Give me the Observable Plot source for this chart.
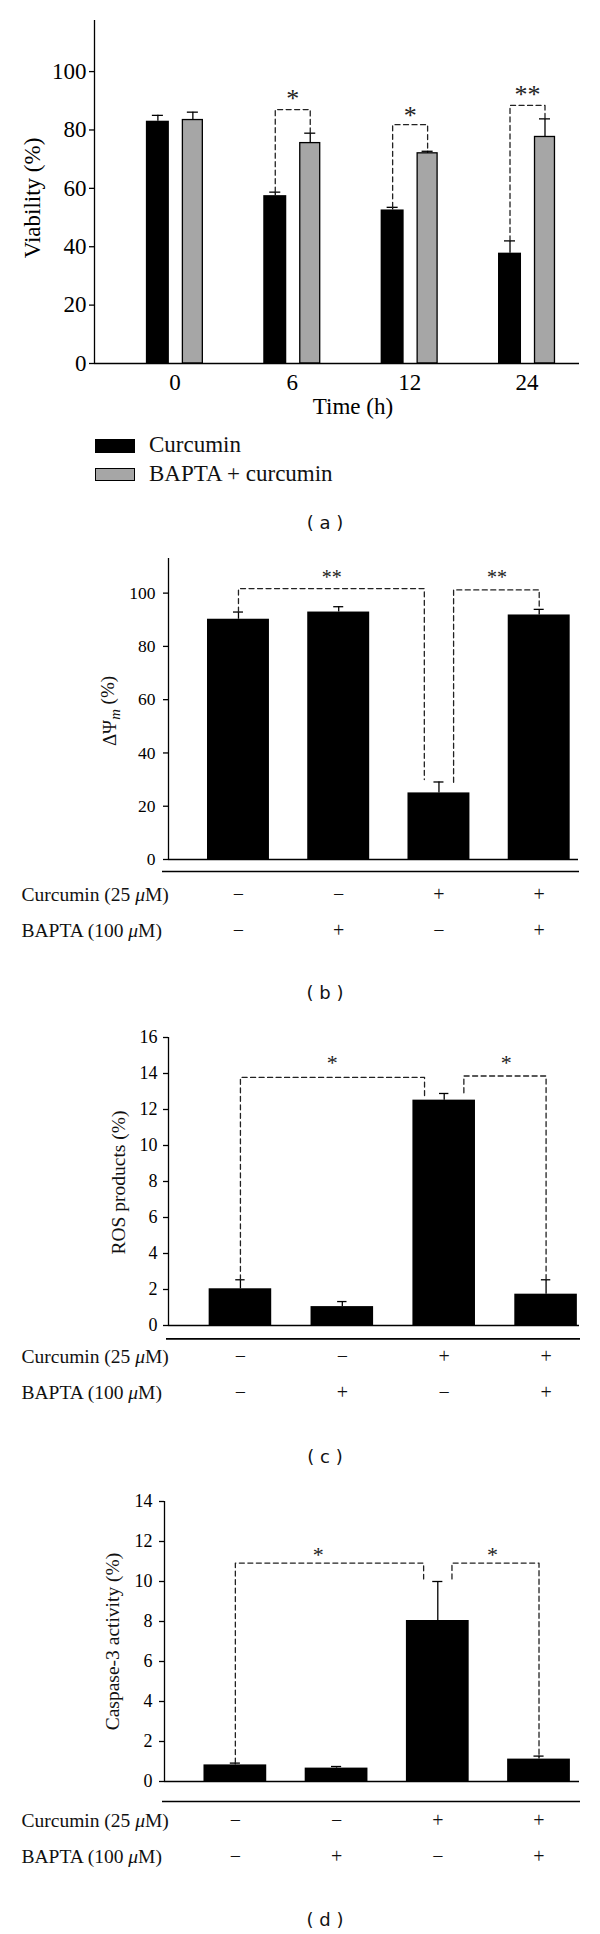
<!DOCTYPE html>
<html>
<head>
<meta charset="utf-8">
<script src="https://cdn.jsdelivr.net/npm/d3@7"></script>
<script src="https://cdn.jsdelivr.net/npm/@observablehq/plot@0.6"></script>
<style>
  body { margin: 0; background: #fff; }
  #wrap { position: relative; width: 600px; height: 1934px; overflow: hidden; background: #fff; }
  .panel { position: absolute; left: 0; overflow: visible; }
  .panel text { font-family: "Liberation Serif", "Times New Roman", serif !important; }
  .cap { position: absolute; left: 250px; width: 150px; text-align: center; font-family: "DejaVu Sans", sans-serif; font-size: 18px; line-height: 22px; color: #111; white-space: pre; }
  .leg { position: absolute; font-family: "Liberation Serif", "Times New Roman", serif; font-size: 23px; line-height: 26px; color: #111; }
  .sw { position: absolute; box-sizing: border-box; }
</style>
</head>
<body>
<div id="wrap"></div>
<script>
// ---------- data ----------
// (a) viability
const times = ["0", "6", "12", "24"];
const viabCurcumin = [83, 57.5, 52.6, 37.8];
const viabCurcuminErr = [2, 1.2, 0.9, 4.2];
const viabBapta = [83.4, 75.5, 72, 77.6];
const viabBaptaErr = [2.7, 3.4, 0.7, 6.2];
const viabSigGroup = [1, 2, 3];
const viabSigLevel = [87, 81.8, 88.4];
const viabSigStarY = [92.5, 86.6, 93.8];
const viabSigLabel = ["*", "*", "**"];
const legendLabels = ["Curcumin", "BAPTA + curcumin"];

// treatment rows (b)-(d)
const rowLabels = ["Curcumin (25 μM)", "BAPTA (100 μM)"];
const curcuminRow = ["−", "−", "+", "+"];
const baptaRow = ["−", "+", "−", "+"];

// (b) mitochondrial membrane potential
const mmp = [90.2, 92.9, 25.0, 91.8];
const mmpErr = [2.7, 2.0, 4.1, 2.1];
const mmpSigFrom = [0, 2], mmpSigTo = [2, 3];
const mmpSigLevel = [101.7, 101.2];
const mmpSigEnd1 = [92.9, 29.0], mmpSigEnd2 = [30.0, 93.9];
const mmpSigLabelX = [0.93, 2.58], mmpSigStarY = [107.3, 107.3];
const mmpSigLabel = ["**", "**"];

// (c) ROS products
const ros = [2.04, 1.05, 12.52, 1.74];
const rosErr = [0.5, 0.28, 0.37, 0.8];
const rosSigFrom = [0, 2], rosSigTo = [2, 3];
const rosSigLevel = [13.78, 13.86];
const rosSigEnd1 = [2.54, 12.93], rosSigEnd2 = [12.76, 2.54];
const rosSigLabelX = [0.90, 2.61], rosSigStarY = [14.8, 14.8];
const rosSigLabel = ["*", "*"];

// (d) caspase-3 activity
const casp = [0.83, 0.67, 8.05, 1.12];
const caspErr = [0.09, 0.08, 1.95, 0.15];
const caspSigFrom = [0, 2], caspSigTo = [2, 3];
const caspSigLevel = [10.92, 10.92];
const caspSigEnd1 = [0.92, 10.13], caspSigEnd2 = [10.13, 1.27];
const caspSigLabelX = [0.82, 2.54], caspSigStarY = [11.55, 11.55];
const caspSigLabel = ["*", "*"];

// ---------- rendering ----------
const serif = "Liberation Serif, Times New Roman, serif";
const wrap = document.getElementById("wrap");
const LW = 1.3;
const dash = "5,3.5";

function place(el, top) {
  el.classList.add("panel");
  el.style.top = top + "px";
  wrap.appendChild(el);
  return el;
}

function fixText(svg) {
  svg.querySelectorAll("text").forEach(t => {
    const s = t.textContent;
    if (t.children.length === 0 && s.includes("μ")) {
      t.innerHTML = s.replace("μ", '<tspan font-style="italic">μ</tspan>');
    }
    if (t.children.length === 0 && s.startsWith("ΔΨm")) {
      t.innerHTML = 'ΔΨ<tspan font-style="italic" font-size="0.78em" dy="0.3em">m</tspan><tspan dy="-0.3em">' + s.slice(3) + '</tspan>';
    }
  });
}

// ----- panel (a)
{
  const xdom = [-0.685, 3.447];
  const A = {blackL: -0.243, blackR: -0.047, grayL: 0.068, grayR: 0.238, cap: 0.047};
  const bc = i => i + (A.blackL + A.blackR) / 2;
  const gc = i => i + (A.grayL + A.grayR) / 2;
  const rows = times.map((t, i) => ({i, t, cur: viabCurcumin[i], curErr: viabCurcuminErr[i], bap: viabBapta[i], bapErr: viabBaptaErr[i]}));
  const br = viabSigGroup.flatMap((g, k) => {
    const r = rows[g];
    return [
      {k, x: bc(g), y: r.cur + r.curErr}, {k, x: bc(g), y: viabSigLevel[k]},
      {k, x: gc(g), y: viabSigLevel[k]}, {k, x: gc(g), y: r.bap + r.bapErr}
    ];
  });
  const stars = viabSigGroup.map((g, k) => ({x: (bc(g) + gc(g)) / 2, y: viabSigStarY[k], s: viabSigLabel[k]}));
  const p = Plot.plot({
    width: 600, height: 430,
    marginTop: 20, marginBottom: 67, marginLeft: 94, marginRight: 21,
    style: {fontFamily: serif, fontSize: "23px", color: "#000", background: "transparent"},
    x: {type: "linear", domain: xdom},
    y: {domain: [0, 117.5]},
    marks: [
      Plot.rect(rows, {x1: d => d.i + A.blackL, x2: d => d.i + A.blackR, y1: 0, y2: "cur", fill: "#000"}),
      Plot.rect(rows, {x1: d => d.i + A.grayL, x2: d => d.i + A.grayR, y1: 0, y2: "bap", fill: "#a6a6a6", stroke: "#000", strokeWidth: LW}),
      Plot.ruleX(rows, {x: d => bc(d.i), y1: "cur", y2: d => d.cur + d.curErr, strokeWidth: LW}),
      Plot.ruleY(rows, {y: d => d.cur + d.curErr, x1: d => bc(d.i) - A.cap, x2: d => bc(d.i) + A.cap, strokeWidth: LW}),
      Plot.ruleX(rows, {x: d => gc(d.i), y1: "bap", y2: d => d.bap + d.bapErr, strokeWidth: LW}),
      Plot.ruleY(rows, {y: d => d.bap + d.bapErr, x1: d => gc(d.i) - A.cap, x2: d => gc(d.i) + A.cap, strokeWidth: LW}),
      Plot.line(br, {x: "x", y: "y", z: "k", stroke: "#222", strokeWidth: LW, strokeDasharray: dash}),
      Plot.text(stars, {x: "x", y: "y", text: "s", fontSize: 26, dy: 5, fill: "#222"}),
      Plot.ruleX([xdom[0]], {strokeWidth: LW}),
      Plot.ruleY([0], {strokeWidth: LW}),
      Plot.axisY({ticks: [0, 20, 40, 60, 80, 100], tickSize: 5, tickPadding: 3, label: null, fontSize: 23, strokeWidth: LW}),
      Plot.axisX({ticks: [0, 1, 2, 3], tickFormat: i => times[i], tickSize: 0, tickPadding: 10, label: null, fontSize: 23}),
      Plot.text(["Time (h)"], {text: d => d, frameAnchor: "bottom", dx: 16, dy: 50, fontSize: 23}),
      Plot.text(["Viability (%)"], {text: d => d, frameAnchor: "left", textAnchor: "middle", rotate: -90, dx: -62, dy: 6, fontSize: 23})
    ]
  });
  place(p, 0);
}

// legend for (a)
{
  const items = [
    {label: legendLabels[0], top: 439, h: 14, fill: "#000"},
    {label: legendLabels[1], top: 468, h: 13, fill: "#a6a6a6"}
  ];
  items.forEach(it => {
    const sw = document.createElement("div");
    sw.className = "sw";
    Object.assign(sw.style, {left: "95px", top: it.top + "px", width: "40px", height: it.h + "px", background: it.fill, border: "1.3px solid #000"});
    wrap.appendChild(sw);
    const tx = document.createElement("div");
    tx.className = "leg";
    tx.textContent = it.label;
    Object.assign(tx.style, {left: "149px", top: (it.top + it.h / 2 - 14) + "px"});
    wrap.appendChild(tx);
  });
}

// ----- panels (b)-(d)
function treatmentPanel(cfg) {
  const rows = cfg.values.map((v, i) => ({i, v, e: cfg.errs[i], cur: curcuminRow[i], bap: baptaRow[i]}));
  const shared = i => cfg.sigFrom.includes(i) && cfg.sigTo.includes(i);
  const br = cfg.sigFrom.flatMap((f, k) => {
    const t = cfg.sigTo[k];
    const x1 = f + (shared(f) ? cfg.gap : 0);
    const x2 = t - (shared(t) ? cfg.gap : 0);
    return [
      {k, x: x1, y: cfg.sigEnd1[k]}, {k, x: x1, y: cfg.sigLevel[k]},
      {k, x: x2, y: cfg.sigLevel[k]}, {k, x: x2, y: cfg.sigEnd2[k]}
    ];
  });
  const stars = cfg.sigLabel.map((s, k) => ({x: cfg.sigLabelX[k], y: cfg.sigStarY[k], s}));
  const p = Plot.plot({
    width: 600, height: cfg.height,
    marginTop: cfg.mt, marginBottom: cfg.mb, marginLeft: cfg.ml, marginRight: cfg.mr,
    style: {fontFamily: serif, fontSize: "18px", color: "#000", background: "transparent"},
    x: {type: "linear", domain: cfg.xdom, axis: null},
    y: {domain: cfg.ydom, axis: null},
    marks: [
      Plot.rect(rows, {x1: d => d.i - cfg.half, x2: d => d.i + cfg.half, y1: 0, y2: "v", fill: "#000"}),
      Plot.ruleX(rows, {x: "i", y1: "v", y2: d => d.v + d.e, strokeWidth: LW}),
      Plot.ruleY(rows, {y: d => d.v + d.e, x1: d => d.i - cfg.cap, x2: d => d.i + cfg.cap, strokeWidth: LW}),
      Plot.line(br, {x: "x", y: "y", z: "k", stroke: "#222", strokeWidth: LW, strokeDasharray: dash}),
      Plot.text(stars, {x: "x", y: "y", text: "s", fontSize: cfg.starFont, dy: cfg.starFont * 0.18, fill: "#222"}),
      Plot.ruleX([cfg.xdom[0]], {strokeWidth: LW}),
      Plot.ruleY([0], {strokeWidth: LW}),
      Plot.ruleY([0], {dy: cfg.sepDy, insetLeft: cfg.sepInsetL, insetRight: -1, strokeWidth: 1.7}),
      Plot.axisY({ticks: cfg.ticks, tickSize: 5, tickPadding: cfg.tickPad, label: null, fontSize: cfg.tickFont, strokeWidth: LW}),
      Plot.text(rows, {x: "i", text: "cur", frameAnchor: "bottom", dy: cfg.row1, fontSize: 20, fill: "#111"}),
      Plot.text(rows, {x: "i", text: "bap", frameAnchor: "bottom", dy: cfg.row2, fontSize: 20, fill: "#111"}),
      Plot.text([rowLabels[0]], {text: d => d, frameAnchor: "bottom-left", textAnchor: "start", dx: 21 - cfg.ml, dy: cfg.row1, fontSize: 19.5, fill: "#111"}),
      Plot.text([rowLabels[1]], {text: d => d, frameAnchor: "bottom-left", textAnchor: "start", dx: 21 - cfg.ml, dy: cfg.row2, fontSize: 19.5, fill: "#111"}),
      Plot.text([cfg.title], {text: d => d, frameAnchor: "left", textAnchor: "middle", rotate: -90, dx: cfg.labelDx, dy: cfg.labelDy, fontSize: cfg.titleFont, fill: "#111"})
    ]
  });
  fixText(p);
  return p;
}

place(treatmentPanel({
  values: mmp, errs: mmpErr,
  sigFrom: mmpSigFrom, sigTo: mmpSigTo, sigLevel: mmpSigLevel, sigEnd1: mmpSigEnd1, sigEnd2: mmpSigEnd2,
  sigLabelX: mmpSigLabelX, sigStarY: mmpSigStarY, sigLabel: mmpSigLabel,
  height: 420, mt: 18, mb: 101, ml: 168, mr: 22,
  xdom: [-0.698, 3.392], ydom: [0, 113], ticks: [0, 20, 40, 60, 80, 100],
  tickFont: 17.5, tickPad: 8, half: 0.309, cap: 0.05, gap: 0.146,
  sepDy: 12, sepInsetL: -6, row1: 41, row2: 77.5,
  title: "ΔΨm (%)", titleFont: 19, labelDx: -59, labelDy: 2, starFont: 20
}), 540);

place(treatmentPanel({
  values: ros, errs: rosErr,
  sigFrom: rosSigFrom, sigTo: rosSigTo, sigLevel: rosSigLevel, sigEnd1: rosSigEnd1, sigEnd2: rosSigEnd2,
  sigLabelX: rosSigLabelX, sigStarY: rosSigStarY, sigLabel: rosSigLabel,
  height: 410, mt: 17, mb: 105, ml: 168, mr: 21,
  xdom: [-0.706, 3.328], ydom: [0, 16], ticks: [0, 2, 4, 6, 8, 10, 12, 14, 16],
  tickFont: 18, tickPad: 6, half: 0.307, cap: 0.046, gap: 0.193,
  sepDy: 13.3, sepInsetL: -2, row1: 37.7, row2: 73.3,
  title: "ROS products (%)", titleFont: 19.5, labelDx: -50, labelDy: 1, starFont: 22
}), 1020);

place(treatmentPanel({
  values: casp, errs: caspErr,
  sigFrom: caspSigFrom, sigTo: caspSigTo, sigLevel: caspSigLevel, sigEnd1: caspSigEnd1, sigEnd2: caspSigEnd2,
  sigLabelX: caspSigLabelX, sigStarY: caspSigStarY, sigLabel: caspSigLabel,
  height: 420, mt: 21, mb: 119, ml: 164, mr: 21,
  xdom: [-0.70, 3.40], ydom: [0, 14], ticks: [0, 2, 4, 6, 8, 10, 12, 14],
  tickFont: 18, tickPad: 7, half: 0.31, cap: 0.05, gap: 0.14,
  sepDy: 20, sepInsetL: -2, row1: 45.7, row2: 81.7,
  title: "Caspase-3 activity (%)", titleFont: 19.5, labelDx: -52, labelDy: 0, starFont: 22
}), 1480);

// captions
[["( a )", 523], ["( b )", 993], ["( c )", 1457], ["( d )", 1920]].forEach(([t, y]) => {
  const d = document.createElement("div");
  d.className = "cap";
  d.textContent = t;
  d.style.top = (y - 11) + "px";
  wrap.appendChild(d);
});
</script>
</body>
</html>
